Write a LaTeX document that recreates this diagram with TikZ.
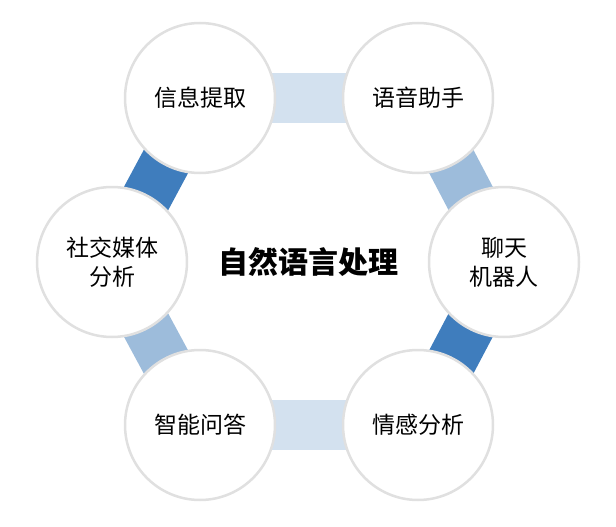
\documentclass[tikz,border=0pt]{standalone}
\usepackage{fontspec}
\setmainfont{Noto Sans CJK SC}
\usetikzlibrary{backgrounds}
\definecolor{bl1}{HTML}{D3E1EF}
\definecolor{bl2}{HTML}{9DBCDB}
\definecolor{bl3}{HTML}{3F7DBD}
\tikzset{
  circ/.style={circle,fill=white,draw=black!12,line width=2.5pt,minimum size=150pt,inner sep=0pt,align=center,font=\fontsize{23}{29}\selectfont},
  band/.style={line width=50pt}
}
\begin{document}
\begin{tikzpicture}[x=1pt,y=-1pt]
\useasboundingbox (0,0) rectangle (616,527);
\node[circ] (a) at (200,98) {信息提取};
\node[circ] (b) at (418,98) {语音助手};
\node[circ] (c) at (504,262) {聊天\\机器人};
\node[circ] (d) at (418,425) {情感分析};
\node[circ] (e) at (200,425) {智能问答};
\node[circ] (f) at (112,262) {社交媒体\\分析};
\begin{scope}[on background layer]
\draw[band,bl1] (a.center) -- (b.center);
\draw[band,bl2] (b.center) -- (c.center);
\draw[band,bl3] (c.center) -- (d.center);
\draw[band,bl1] (d.center) -- (e.center);
\draw[band,bl2] (e.center) -- (f.center);
\draw[band,bl3] (f.center) -- (a.center);
\end{scope}
\node[font=\bfseries\fontsize{30}{36}\selectfont] (m) at (308,262) {自然语言处理};
\end{tikzpicture}
\end{document}
